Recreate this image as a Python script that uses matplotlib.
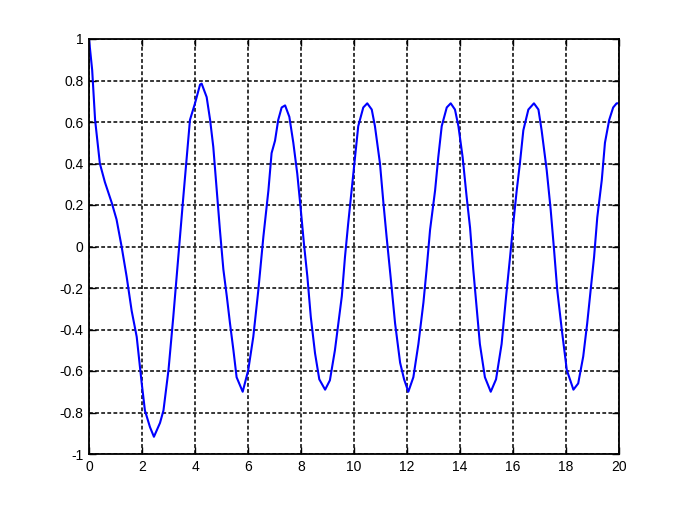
"""Respuesta oscilatoria amortiguada, estilo Octave."""

import matplotlib

matplotlib.use("Agg")
import matplotlib.pyplot as plt

# puntos
t = [0.0, 0.12, 0.23, 0.41, 0.60, 0.86, 1.04, 1.23, 1.42, 1.61, 1.80, 1.99,
     2.11, 2.30, 2.45, 2.68, 2.81, 3.00, 3.18, 3.37, 3.56, 3.69, 3.81, 4.00,
     4.19, 4.25, 4.44, 4.57, 4.69, 4.82, 4.94, 5.07, 5.20, 5.32, 5.45, 5.57,
     5.80, 6.01, 6.20, 6.39, 6.58, 6.77, 6.89, 7.02, 7.14, 7.27, 7.40, 7.56,
     7.71, 7.86, 7.99, 8.11, 8.24, 8.37, 8.53, 8.69, 8.91, 9.09, 9.28, 9.41,
     9.54, 9.66, 9.78, 9.91, 10.04, 10.16, 10.35, 10.50, 10.67, 10.79, 10.98,
     11.11, 11.23, 11.38, 11.55, 11.74, 11.89, 12.05, 12.24, 12.43, 12.62,
     12.74, 12.87, 13.06, 13.18, 13.31, 13.50, 13.65, 13.81, 13.94, 14.10,
     14.25, 14.38, 14.50, 14.63, 14.75, 14.94, 15.16, 15.36, 15.57, 15.74,
     15.89, 16.01, 16.14, 16.26, 16.39, 16.58, 16.79, 16.96, 17.08, 17.27,
     17.42, 17.55, 17.67, 17.84, 18.03, 18.28, 18.46, 18.65, 18.80, 18.93,
     19.06, 19.18, 19.35, 19.47, 19.63, 19.78, 19.91, 20.0]
y = [1.0, 0.85, 0.61, 0.40, 0.31, 0.21, 0.13, 0.0, -0.145, -0.31, -0.435,
     -0.66, -0.79, -0.87, -0.917, -0.85, -0.79, -0.595, -0.34, -0.05, 0.24,
     0.43, 0.61, 0.69, 0.78, 0.785, 0.72, 0.61, 0.48, 0.27, 0.08, -0.11,
     -0.24, -0.37, -0.50, -0.63, -0.70, -0.595, -0.435, -0.21, 0.047, 0.27,
     0.45, 0.51, 0.61, 0.67, 0.68, 0.625, 0.50, 0.35, 0.18, 0.015, -0.145,
     -0.34, -0.515, -0.64, -0.69, -0.645, -0.50, -0.37, -0.24, -0.05, 0.11,
     0.27, 0.43, 0.58, 0.67, 0.69, 0.66, 0.58, 0.40, 0.21, 0.047, -0.145,
     -0.37, -0.56, -0.64, -0.70, -0.63, -0.47, -0.27, -0.11, 0.08, 0.27, 0.43,
     0.58, 0.67, 0.69, 0.66, 0.58, 0.43, 0.24, 0.09, -0.11, -0.30, -0.47,
     -0.63, -0.70, -0.64, -0.47, -0.24, -0.05, 0.11, 0.27, 0.40, 0.56, 0.66,
     0.69, 0.66, 0.56, 0.37, 0.18, -0.017, -0.21, -0.40, -0.595, -0.69, -0.66,
     -0.53, -0.37, -0.21, -0.05, 0.14, 0.32, 0.50, 0.61, 0.67, 0.69, 0.69]

x_ticks = list(range(0, 21, 2))
y_ticks = [-1, -0.8, -0.6, -0.4, -0.2, 0, 0.2, 0.4, 0.6, 0.8, 1]
y_labels = ["-1", "-0.8", "-0.6", "-0.4", "-0.2", "0", "0.2", "0.4", "0.6", "0.8", "1"]

plt.rcParams["font.family"] = ["Liberation Sans", "DejaVu Sans"]

figure = plt.figure(figsize=(6.88, 5.16), dpi=100)
axis = figure.add_axes([89 / 688, 1 - 454 / 516, 530 / 688, 415 / 516])

axis.plot(t, y, color="#0000ff", linewidth=1.5)

axis.set_xlim(0, 20)
axis.set_ylim(-1, 1)
axis.set_xticks(x_ticks)
axis.set_xticklabels([str(v) for v in x_ticks])
axis.set_yticks(y_ticks)
axis.set_yticklabels(y_labels)
axis.grid(True, color="black", linestyle=(0, (2.5, 1.5)), linewidth=1.1)
axis.tick_params(direction="in", length=5, width=1, top=True, right=True,
                 labelsize=10, pad=4)
for spine in axis.spines.values():
    spine.set_linewidth(1.3)

figure.savefig("out.png", dpi=100)
